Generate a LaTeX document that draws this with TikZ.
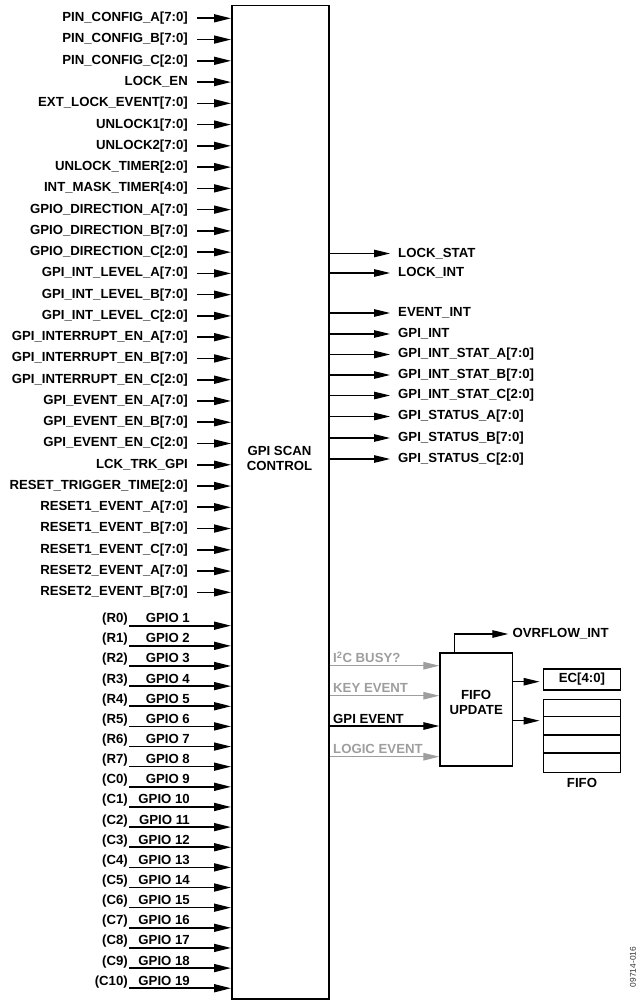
\documentclass[tikz,border=0pt]{standalone}
\usepackage{fontspec}
\setmainfont{Liberation Sans}
\usetikzlibrary{arrows.meta}
\definecolor{lgray}{gray}{0.62}
\begin{document}
\begin{tikzpicture}[x=1pt,y=-1pt,
  lbl/.style={font=\fontsize{13.2}{15}\selectfont\bfseries, inner sep=0pt},
  inarrow/.style={line width=1.6pt, -{Triangle[length=17pt,width=8pt]}},
  outarrow/.style={line width=1.2pt, -{Triangle[length=16pt,width=7.5pt]}},
  grayarrow/.style={line width=1.2pt, draw=lgray, -{Triangle[length=16pt,width=7.5pt]}},
  blk/.style={draw, line width=1.5pt, inner sep=0pt},
]
\useasboundingbox (0,0) rectangle (638,1000);
% main block
\node[blk, minimum width=97pt, minimum height=993.3pt, anchor=north west] (gsc) at (231,4.7) {};
\node[lbl, align=center] (gsctext) at (279.5,458) {GPI SCAN\\CONTROL};
% register inputs
\foreach \t [count=\i] in {{PIN\_CONFIG\_A[7:0]},{PIN\_CONFIG\_B[7:0]},{PIN\_CONFIG\_C[2:0]},{LOCK\_EN},{EXT\_LOCK\_EVENT[7:0]},{UNLOCK1[7:0]},{UNLOCK2[7:0]},{UNLOCK\_TIMER[2:0]},{INT\_MASK\_TIMER[4:0]},{GPIO\_DIRECTION\_A[7:0]},{GPIO\_DIRECTION\_B[7:0]},{GPIO\_DIRECTION\_C[2:0]},{GPI\_INT\_LEVEL\_A[7:0]},{GPI\_INT\_LEVEL\_B[7:0]},{GPI\_INT\_LEVEL\_C[2:0]},{GPI\_INTERRUPT\_EN\_A[7:0]},{GPI\_INTERRUPT\_EN\_B[7:0]},{GPI\_INTERRUPT\_EN\_C[2:0]},{GPI\_EVENT\_EN\_A[7:0]},{GPI\_EVENT\_EN\_B[7:0]},{GPI\_EVENT\_EN\_C[2:0]},{LCK\_TRK\_GPI},{RESET\_TRIGGER\_TIME[2:0]},{RESET1\_EVENT\_A[7:0]},{RESET1\_EVENT\_B[7:0]},{RESET1\_EVENT\_C[7:0]},{RESET2\_EVENT\_A[7:0]},{RESET2\_EVENT\_B[7:0]}} {
  \pgfmathsetmacro\yy{18.3+21.26*(\i-1)}
  \coordinate (a\i) at (197,\yy);
  \node[lbl, anchor=east] (in\i) at (188,\yy) {\t};
  \draw[inarrow] (a\i) -- (a\i -| gsc.west);
}
% GPIO inputs
\foreach \t [count=\i] in {R0,R1,R2,R3,R4,R5,R6,R7,C0,C1,C2,C3,C4,C5,C6,C7,C8,C9,C10} {
  \pgfmathsetmacro\yy{625.7+20.14*(\i-1)}
  \coordinate (g\i) at (129,\yy);
  \draw[inarrow] (g\i) -- (g\i -| gsc.west);
  \node[lbl, anchor=base east] (gp\i) at (190,\yy-3) {GPIO \i};
  \node[lbl, anchor=base east] (rc\i) at (128,\yy-3) {(\t)};
}
% outputs
\foreach \t/\yy [count=\i] in {{LOCK\_STAT}/253.5,{LOCK\_INT}/273,{EVENT\_INT}/313,{GPI\_INT}/334,{GPI\_INT\_STAT\_A[7:0]}/354.5,{GPI\_INT\_STAT\_B[7:0]}/375,{GPI\_INT\_STAT\_C[2:0]}/395.5,{GPI\_STATUS\_A[7:0]}/416.5,{GPI\_STATUS\_B[7:0]}/438,{GPI\_STATUS\_C[2:0]}/459} {
  \coordinate (o\i) at (390,\yy);
  \draw[outarrow] (o\i -| gsc.east) -- (o\i);
  \node[lbl, anchor=west] (out\i) at (398,\yy) {\t};
}
% FIFO update block
\node[blk, minimum width=72.3pt, minimum height=113.3pt] (fu) at (476.2,709.4) {};
\node[lbl, align=center] (futext) at (476.2,702.5) {FIFO\\UPDATE};
% event inputs
\coordinate (e1) at (440,665.7);
\coordinate (e2) at (440,695.7);
\coordinate (e3) at (440,726);
\coordinate (e4) at (440,756.7);
\draw[grayarrow] (e1 -| gsc.east) -- (e1 -| fu.west);
\draw[grayarrow] (e2 -| gsc.east) -- (e2 -| fu.west);
\draw[outarrow] (e3 -| gsc.east) -- (e3 -| fu.west);
\draw[grayarrow] (e4 -| gsc.east) -- (e4 -| fu.west);
\node[lbl, anchor=base west, text=lgray] (ev1) at (333,662.7) {I\textsuperscript{2}C BUSY?};
\node[lbl, anchor=base west, text=lgray] (ev2) at (333,692.7) {KEY EVENT};
\node[lbl, anchor=base west] (ev3) at (333,723) {GPI EVENT};
\node[lbl, anchor=base west, text=lgray] (ev4) at (333,753.7) {LOGIC EVENT};
% overflow
\coordinate (ov) at (508.3,634);
\draw[outarrow] ([xshift=14.8pt]fu.north west) |- (ov);
\node[lbl, anchor=west] (ovl) at (512.3,634) {OVRFLOW\_INT};
% EC and FIFO
\node[blk, minimum width=77.4pt, minimum height=21pt] (ec) at (582,679.5) {};
\node[lbl] (ectext) at (582,679.5) {EC[4:0]};
\draw[outarrow, shorten >=3pt] (fu.east |- 0,681.7) -- (ec.west |- 0,681.7);
\node[blk, minimum width=77.4pt, minimum height=73pt] (fifo) at (582,735.8) {};
\draw[line width=1.5pt] (fifo.west |- 0,716.7) -- (fifo.east |- 0,716.7);
\draw[line width=1.5pt] (fifo.west |- 0,735) -- (fifo.east |- 0,735);
\draw[line width=1.5pt] (fifo.west |- 0,753) -- (fifo.east |- 0,753);
\draw[outarrow, shorten >=3pt] (fu.east |- 0,720.7) -- (fifo.west |- 0,720.7);
\node[lbl] (fifolbl) at (582,783.3) {FIFO};
% figure number
\node[rotate=90, font=\fontsize{8.4}{9}\selectfont, text=black!80, inner sep=0pt] (fig) at (633,967) {09714-016};
\end{tikzpicture}
\end{document}
